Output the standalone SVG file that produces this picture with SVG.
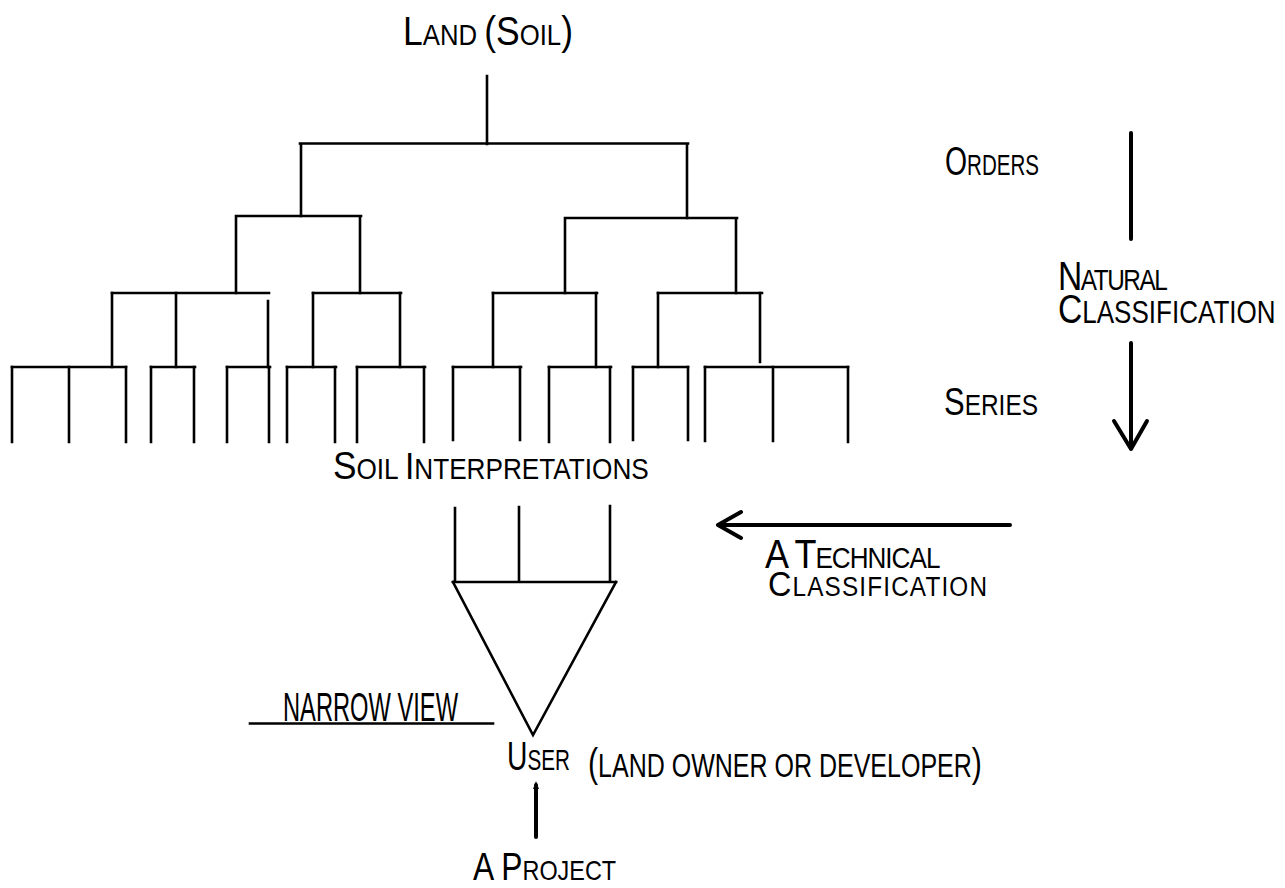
<svg xmlns="http://www.w3.org/2000/svg" width="1285" height="888" viewBox="0 0 1285 888">
<style>
.ln{fill:none;stroke:#000;stroke-width:2.6;stroke-linecap:square}
.thick{fill:none;stroke:#000;stroke-width:4;stroke-linecap:round;stroke-linejoin:round}
text{font-family:"Liberation Sans","DejaVu Sans",Arial,sans-serif;fill:#000}
.b{font-size:40px}
.s{font-size:29px}
</style>
<rect width="1285" height="888" fill="#fff"/>
<g id="connectors">
<g id="tree">
<path class="ln" d="M487,76V144 M300,143.5H688 M301,143.5V216 M687,143.5V218"/>
<path class="ln" d="M236,216H361 M565,218H737 M236,216V293 M360,216V293 M565,218V293 M736,218V293"/>
<path class="ln" d="M112,293H269 M313,293H401 M493,293H597 M658,293H762"/>
<path class="ln" d="M112,293V367 M176,293V367 M268,301V367 M313,293V367 M400,293V367 M493,293V367 M596,293V367 M658,293V367 M760,293V362"/>
<path class="ln" d="M12,367H126 M151,367H195 M227,367H270 M287,367H336 M357,367H425 M453,367H521 M549,367H611 M633,367H688 M705,367H848"/>
<path class="ln" d="M12,367V442 M69,367V442 M126,367V442 M151,367V442 M194,367V442 M227,367V442 M269,367V442 M287,367V442 M335,367V442 M357,367V442 M424,367V442 M453,367V440 M520,367V440 M549,367V442 M610,367V442 M633,367V440 M688,367V440 M705,367V441 M773,367V441 M848,367V442"/>
</g>
<g id="funnel">
<path class="ln" d="M455,508V582 M519,507V582 M610,506V582 M453,582H616"/>
<path class="ln" d="M453,582L533,735L616,582" stroke-linejoin="miter"/>
</g>
<g id="natural-arrow">
<path class="thick" d="M1131,133V239"/>
<path class="thick" d="M1131,343V449 M1114,421L1131,449L1147,421"/>
</g>
<g id="technical-arrow">
<path class="thick" d="M1010,525H718 M741,512L718,525L741,538" stroke-width="4.5"/>
</g>
<g id="project-arrow">
<path class="thick" d="M536,785V837" stroke-width="3.5"/>
<path d="M533,789L536,781L539,789Z" fill="#000"/>
</g>
</g>
<g id="node-land">
<text transform="translate(403,45) scale(0.887,1)"><tspan class="b">L</tspan><tspan class="s">AND </tspan><tspan class="b">(S</tspan><tspan class="s">OIL</tspan><tspan class="b">)</tspan></text>
</g>
<g id="node-orders">
<text transform="translate(945,175) scale(0.709,1)"><tspan class="b">O</tspan><tspan class="s">RDERS</tspan></text>
</g>
<g id="node-natural">
<text transform="translate(1058,0) scale(0.84,1)"><tspan x="0" y="290" class="b" letter-spacing="-1.75">N</tspan><tspan class="s" letter-spacing="-1.75">ATURAL</tspan><tspan x="0" y="323" class="b">C</tspan><tspan style="font-size:31px">LASSIFICATION</tspan></text>
</g>
<g id="node-series">
<text transform="translate(944,415) scale(0.815,1)"><tspan style="font-size:38px">S</tspan><tspan style="font-size:30px">ERIES</tspan></text>
</g>
<g id="node-soil-interpretations">
<text transform="translate(333,479) scale(0.903,1)"><tspan style="font-size:39px">S</tspan><tspan class="s">OIL </tspan><tspan style="font-size:37px">I</tspan><tspan class="s">NTERPRETATIONS</tspan></text>
</g>
<g id="node-technical">
<text transform="translate(765,0) scale(0.9,1)"><tspan x="0" y="568" class="b" letter-spacing="-1.1">A T</tspan><tspan class="s" letter-spacing="-1.1">ECHNICAL</tspan><tspan x="3.3" y="596" style="font-size:36px" letter-spacing="1.3">C</tspan><tspan style="font-size:27px" letter-spacing="1.3">LASSIFICATION</tspan></text>
</g>
<g id="node-narrow-view">
<text transform="translate(283,721) scale(0.578,1)" style="font-size:41px">NARROW VIEW</text>
<path class="ln" d="M250,723.5H493" stroke-width="2.2"/>
</g>
<g id="node-user">
<text transform="translate(507,770) scale(0.69,1)"><tspan style="font-size:41px">U</tspan><tspan style="font-size:30px">SER</tspan></text>
<text transform="translate(588,777) scale(0.758,1)"><tspan class="b">(</tspan><tspan style="font-size:33px">LAND OWNER OR DEVELOPER</tspan><tspan class="b">)</tspan></text>
</g>
<g id="node-project">
<text transform="translate(473,880) scale(0.837,1)"><tspan style="font-size:38px">A P</tspan><tspan style="font-size:28px">ROJECT</tspan></text>
</g>
</svg>
